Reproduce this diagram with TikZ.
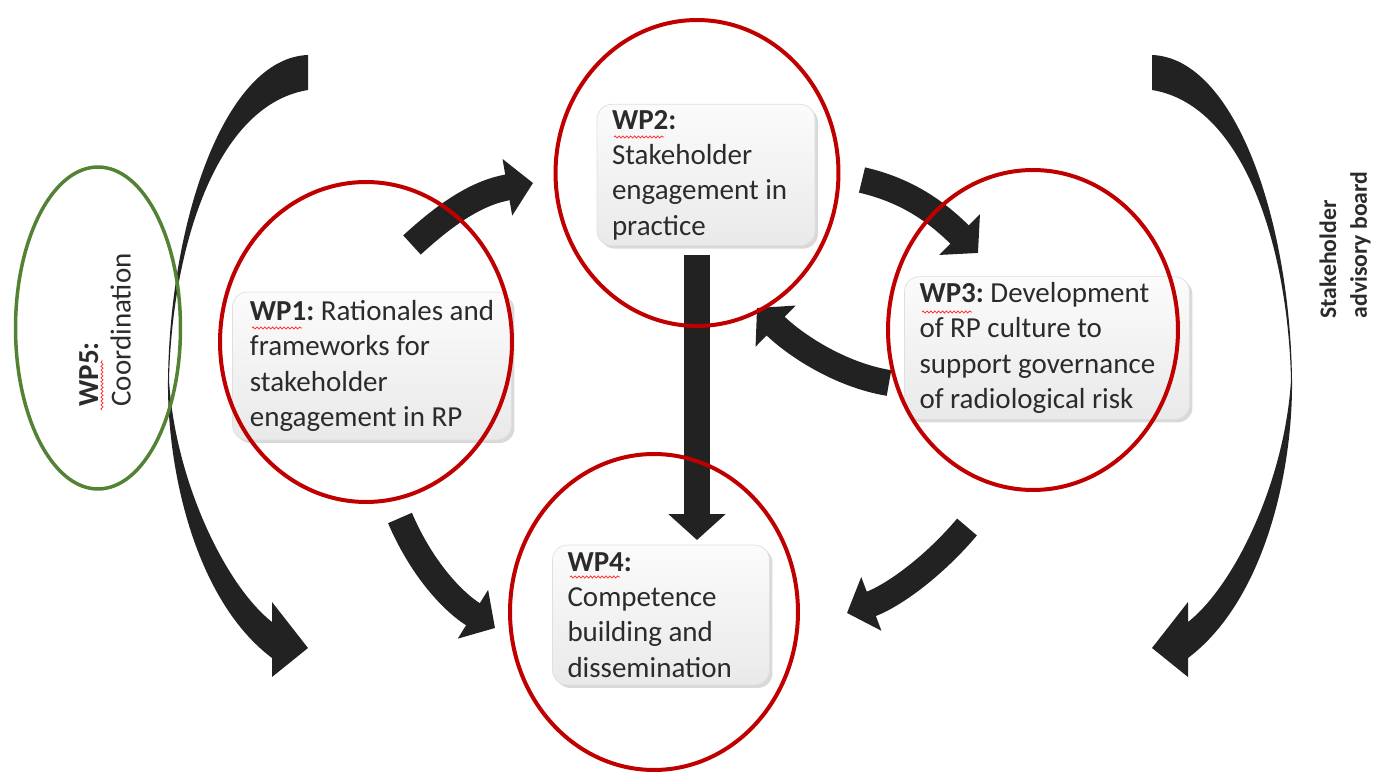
\documentclass[tikz,border=0pt]{standalone}
\usepackage{fontspec}
\setmainfont{Carlito}
\usetikzlibrary{arrows.meta,shapes.geometric,shadows,decorations.pathmorphing}

\definecolor{ringred}{HTML}{C00000}
\definecolor{ringgreen}{HTML}{548235}
\definecolor{arrowgray}{HTML}{222222}
\definecolor{textgray}{HTML}{2B2B2B}

\tikzset{
  wpbox/.style={rectangle, rounded corners=0.3cm, draw=gray!25, top color=gray!3, bottom color=gray!17,
    drop shadow={shadow xshift=0.06cm, shadow yshift=-0.06cm, opacity=0.3},
    inner xsep=0.3cm, align=flush left, text=textgray, font=\fontsize{16.5}{20.1}\selectfont\frenchspacing, minimum height=2.8cm},
  ring/.style={ellipse, draw=ringred, line width=0.08cm, inner sep=0pt},
  flow/.style={draw=arrowgray, line width=0.52cm, -{Triangle[length=0.52cm 0, width=1.12cm 0]}},
  spell/.style={red!85, line width=0.4pt, decorate, decoration={snake, amplitude=0.6pt, segment length=2.2pt}},
}

\begin{document}
\begin{tikzpicture}[x=0.02cm, y=-0.02cm]
\useasboundingbox (0,0) rectangle (1383,773);

% side arrows (right one, and its mirror image on the left)
\foreach \s/\o in {1/0,-1/1460}
  \fill[arrowgray, shift={(\o,0)}, xscale=\s] (1152,55) .. controls (1235,58) and (1290,220) .. (1292,380)
    .. controls (1293,470) and (1265,600) .. (1188,658) -- (1188,677) -- (1152,648) -- (1188,602) -- (1188,622)
    .. controls (1235,585) and (1285,480) .. (1291,380) .. controls (1288,250) and (1245,105) .. (1152,90) -- cycle;

% flow arrows
\coordinate (a1s) at (412,245); \coordinate (a1e) at (533,183);
\coordinate (a2s) at (862,180); \coordinate (a2e) at (978,253);
\coordinate (a3s) at (889,383); \coordinate (a3e) at (757,308);
\coordinate (a4s) at (697,255); \coordinate (a4e) at (697,540);
\coordinate (a5s) at (400,518); \coordinate (a5e) at (495,628);
\coordinate (a6s) at (967,527); \coordinate (a6e) at (847,613);
\draw[flow] (a1s) .. controls (450,210) and (480,192) .. (a1e);
\draw[flow] (a2s) .. controls (905,190) and (935,210) .. (a2e);
\draw[flow] (a3s) .. controls (840,375) and (795,345) .. (a3e);
\draw[flow] (a4s) -- (a4e);
\draw[flow] (a5s) .. controls (420,565) and (450,600) .. (a5e);
\draw[flow] (a6s) .. controls (935,565) and (895,595) .. (a6e);

% work packages
\node[wpbox, minimum width=5.58cm, minimum height=2.96cm] (wp1) at (372,366)
  {\textbf{WP1:} Rationales and\\frameworks for\\stakeholder\\engagement in RP};
\node[wpbox, text width=3.76cm] (wp2) at (706,175)
  {\textbf{WP2:}\\Stakeholder\\engagement in\\practice};
\node[wpbox, text width=5.1cm] (wp3) at (1047,348)
  {\textbf{WP3:} Development\\of RP culture to\\support governance\\of radiological risk};
\node[wpbox, text width=3.74cm] (wp4) at (661,615)
  {\textbf{WP4:}\\Competence\\building and\\dissemination};

% spelling marks
\draw[spell] (252,328) -- (302,328);
\draw[spell] (614,137) -- (664,137);
\draw[spell] (922,312) -- (972,312);
\draw[spell] (570,577) -- (620,577);
\draw[spell] (102,410) -- (102,360);

\node[ring, minimum width=5.84cm, minimum height=6.4cm] (r1) at (366,342) {};
\node[ring, minimum width=5.66cm, minimum height=6.12cm] (r2) at (697,173) {};
\node[ring, minimum width=5.8cm, minimum height=6.4cm] (r3) at (1033,330) {};
\node[ring, minimum width=5.76cm, minimum height=6.32cm] (r4) at (654,612) {};

\node[ellipse, draw=ringgreen, line width=0.07cm, inner sep=0pt, minimum width=3.3cm, minimum height=6.44cm] (r5) at (98,328) {};
\node[rotate=90, align=left, text=textgray, font=\fontsize{16.5}{18.5}\selectfont] (wp5) at (105,330)
  {\textbf{WP5:}\\Coordination};

\node[rotate=90, align=left, text=textgray, font=\bfseries\fontsize{13.5}{17.5}\selectfont] (board) at (1345,245)
  {Stakeholder\\advisory board};
\end{tikzpicture}
\end{document}
